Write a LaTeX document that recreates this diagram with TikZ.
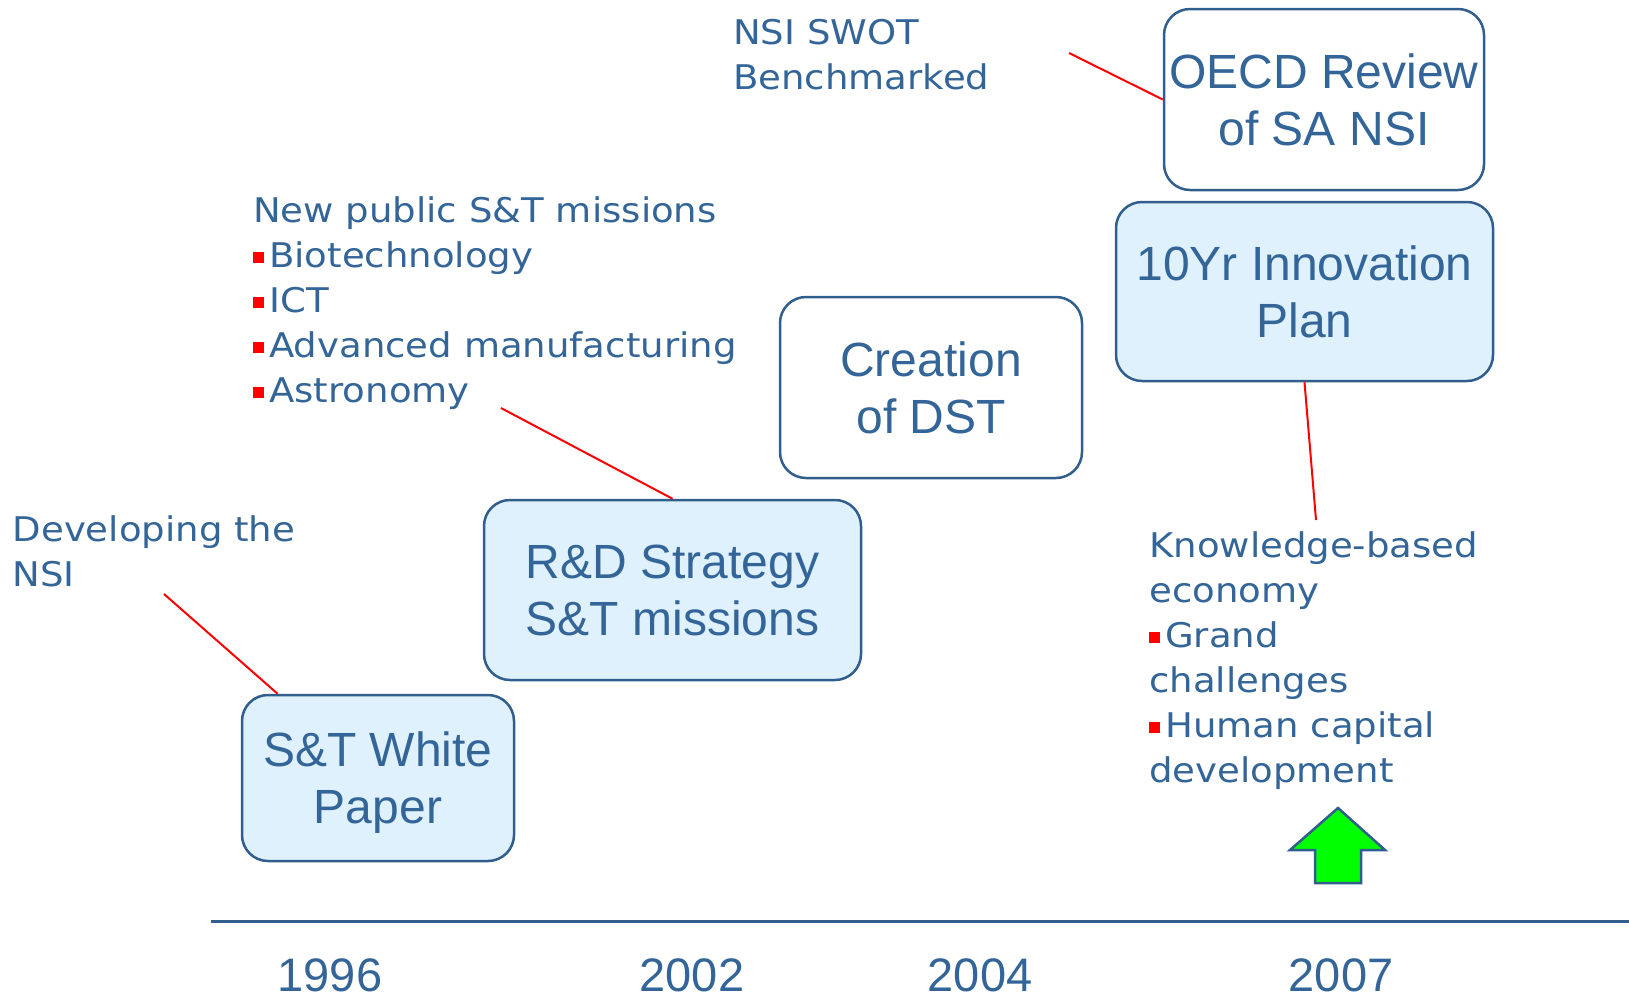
\documentclass[tikz,border=0pt]{standalone}
\usepackage{fontspec}
\setmainfont{Liberation Sans}
\newfontfamily\annotfont[FakeStretch=1.09]{DejaVu Sans}
\definecolor{tblue}{RGB}{52,101,152}
\definecolor{bblue}{RGB}{49,94,140}
\definecolor{bfill}{RGB}{222,241,252}
\definecolor{agreen}{RGB}{0,255,0}
\newcommand\rb{\textcolor{red}{\rule[4pt]{11pt}{11pt}}\hspace{5pt}}
\tikzset{
  stagebox/.style={draw=bblue, line width=2.5pt, rounded corners=26pt, align=center,
    font=\fontsize{48}{57}\selectfont, text=tblue, inner sep=0pt},
  annot/.style={align=left, anchor=base west, inner sep=0pt, text=tblue,
    font=\annotfont\fontsize{34}{45}\selectfont},
  year/.style={anchor=base, inner sep=0pt, text=tblue, font=\fontsize{47}{47}\selectfont},
  redline/.style={draw=red, line width=2pt},
  timeline/.style={draw=bblue, line width=3pt}
}
\begin{document}
\begin{tikzpicture}[x=1pt,y=-1pt]
\useasboundingbox (0,0) rectangle (1629,997);
% boxes
\node[stagebox, fill=bfill, minimum width=272pt, minimum height=166pt, text depth=0pt] (wp) at (378,778) {S\&T White\\Paper};
\node[stagebox, fill=bfill, minimum width=377pt, minimum height=180pt] (rd) at (672.5,590) {R\&D Strategy\\S\&T missions};
\node[stagebox, fill=white, minimum width=302pt, minimum height=181pt] (dst) at (931,387.5) {Creation\\of DST};
\node[stagebox, fill=bfill, minimum width=377pt, minimum height=179pt] (yip) at (1304.5,291.5) {10Yr Innovation\\Plan};
\node[stagebox, fill=white, minimum width=320pt, minimum height=181pt] (oecd) at (1324,99.5) {OECD Review\\of SA NSI};
% annotations (anchor = baseline of last line)
\node[annot] (dev) at (12.5,586) {Developing the\\NSI};
\node[annot] (missions) at (253,402) {New public S\&T missions\\\rb Biotechnology\\\rb ICT\\\rb Advanced manufacturing\\\rb Astronomy};
\node[annot] (swot) at (733,89) {NSI SWOT\\Benchmarked};
\node[annot] (kbe) at (1149,782) {Knowledge-based\\economy\\\rb Grand\\challenges\\\rb Human capital\\development};
% connectors
\coordinate (c1) at (164,594);
\coordinate (c2) at (501,408);
\coordinate (c3) at (1069,53);
\coordinate (c4) at (1316,520);
\draw[redline] (c1) -- (wp.140);
\draw[redline] (c2) -- (rd.north);
\draw[redline] (c3) -- (oecd.west);
\draw[redline] (yip.south) -- (c4);
% timeline
\coordinate (tl0) at (211,921.5);
\coordinate (tl1) at (1629,921.5);
\draw[timeline] (tl0) -- (tl1);
\node[year] (y1996) at (330,991) {1996};
\node[year] (y2002) at (692,991) {2002};
\node[year] (y2004) at (980,991) {2004};
\node[year] (y2007) at (1341,991) {2007};
% green arrow
\draw[draw=bblue, line width=2.5pt, fill=agreen, line join=miter]
  (1338,808) -- (1385,850) -- (1361,850) -- (1361,883) -- (1315,883) -- (1315,850) -- (1290,850) -- cycle;
\end{tikzpicture}
\end{document}
